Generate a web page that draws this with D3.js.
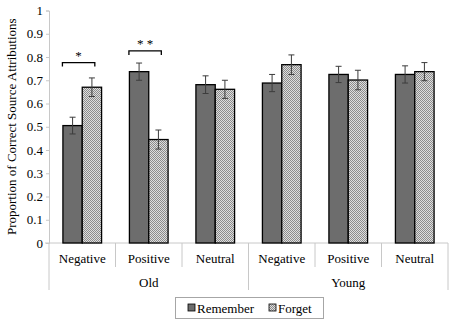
<!DOCTYPE html>
<meta charset="utf-8">
<style>
    body { margin: 0; background: #fff; overflow: hidden; }
</style>
<svg id="canvas" width="454" height="322"></svg>
<script src="https://d3js.org/d3.v7.min.js"></script>
<script>

    var ages = ["Old", "Young"];
    var valences = ["Negative", "Positive", "Neutral"];
    var series = ["Remember", "Forget"];

    var remember    = [0.505, 0.737, 0.681, 0.688, 0.725, 0.725];
    var rememberErr = [0.036, 0.037, 0.038, 0.037, 0.035, 0.037];
    var forget      = [0.670, 0.445, 0.661, 0.767, 0.701, 0.737];
    var forgetErr   = [0.040, 0.041, 0.039, 0.042, 0.042, 0.039];

    var yTicks = [0, 0.1, 0.2, 0.3, 0.4, 0.5, 0.6, 0.7, 0.8, 0.9, 1];

    // significance markers: category index, label, bracket level
    var sigCats   = [0, 1];
    var sigLabels = ["*", "* *"];
    var sigLevels = [0.776, 0.826];

    var svg = d3.select("#canvas").attr("font-family", "Liberation Serif");
    var plotL = 49, plotR = 448, plotT = 10.5, plotB = 243;

    var cats = [];
    ages.forEach(function(a) { valences.forEach(function(v) { cats.push(a + "|" + v); }); });

    var x0 = d3.scaleBand().domain(cats).range([plotL, plotR]).padding(0);
    var x1 = d3.scaleBand().domain(series).range([0, x0.bandwidth()]).paddingInner(0).paddingOuter(0.72);
    var y = d3.scaleLinear().domain([0, 1]).range([plotB, plotT]);

    var defs = svg.append("defs");
    var pat = defs.append("pattern").attr("id", "hatch")
        .attr("patternUnits", "userSpaceOnUse").attr("width", 2).attr("height", 2);
    pat.append("rect").attr("width", 2).attr("height", 2).attr("fill", "#dedede");
    pat.append("rect").attr("width", 1).attr("height", 1).attr("fill", "#8c8c8c");
    pat.append("rect").attr("x", 1).attr("y", 1).attr("width", 1).attr("height", 1).attr("fill", "#8c8c8c");

    var fills = { Remember: "#6d6d6d", Forget: "url(#hatch)" };

    function label(sel) {
        return sel.attr("font-family", "Liberation Serif").attr("font-size", 13).attr("fill", "#000");
    }

    // y axis
    var yAxis = svg.append("g").attr("transform", "translate(" + plotL + ",0)")
        .call(d3.axisLeft(y).tickValues(yTicks).tickSize(3).tickPadding(3)
              .tickFormat(function(d) { return d === 0 || d === 1 ? d3.format("d")(d) : d3.format(".1f")(d); }));
    yAxis.attr("font-family", "Liberation Serif").attr("font-size", 13);
    yAxis.select(".domain").attr("stroke", "#c8c8c8");
    yAxis.selectAll(".tick line").attr("stroke", "#c8c8c8");
    label(yAxis.selectAll("text"));

    // x axis line
    svg.append("line").attr("x1", plotL - 4).attr("x2", plotR).attr("y1", plotB).attr("y2", plotB)
        .attr("stroke", "#c8c8c8");

    // category separators
    var seps = cats.map(function(c) { return x0(c); }).concat([plotR]);
    svg.selectAll(".sep").data(seps).enter().append("line")
        .attr("x1", function(d) { return d; }).attr("x2", function(d) { return d; })
        .attr("y1", plotB)
        .attr("y2", function(d, i) { return i % 3 === 0 ? 290 : 267; })
        .attr("stroke", "#c8c8c8");

    label(svg.selectAll(".cat").data(cats).enter().append("text")
        .attr("x", function(d) { return x0(d) + x0.bandwidth() / 2; })
        .attr("y", 263).attr("text-anchor", "middle")
        .text(function(d) { return d.split("|")[1]; }));

    label(svg.selectAll(".age").data(ages).enter().append("text")
        .attr("x", function(d) { return (x0(d + "|Negative") + x0(d + "|Neutral") + x0.bandwidth()) / 2; })
        .attr("y", 287).attr("text-anchor", "middle")
        .text(function(d) { return d; }));

    // y title
    label(svg.append("text")
        .attr("transform", "translate(16," + (plotT + plotB) / 2 + ") rotate(-90)")
        .attr("text-anchor", "middle")
        .text("Proportion of Correct Source Attributions"));

    // bars
    var rows = [];
    cats.forEach(function(c, i) {
        rows.push({ cat: c, s: "Remember", v: remember[i], e: rememberErr[i] });
        rows.push({ cat: c, s: "Forget", v: forget[i], e: forgetErr[i] });
    });

    var bars = svg.append("g");
    bars.selectAll("rect").data(rows).enter().append("rect")
        .attr("x", function(d) { return x0(d.cat) + x1(d.s); })
        .attr("y", function(d) { return y(d.v); })
        .attr("width", x1.bandwidth())
        .attr("height", function(d) { return y(0) - y(d.v); })
        .attr("fill", function(d) { return fills[d.s]; })
        .attr("stroke", "#000").attr("stroke-width", 1.3);

    // error bars
    var eb = svg.append("g").attr("stroke", "#3c3c3c").attr("stroke-width", 1);
    rows.forEach(function(d) {
        var cx = x0(d.cat) + x1(d.s) + x1.bandwidth() / 2;
        eb.append("line").attr("x1", cx).attr("x2", cx).attr("y1", y(d.v + d.e)).attr("y2", y(d.v - d.e));
        eb.append("line").attr("x1", cx - 3).attr("x2", cx + 3).attr("y1", y(d.v + d.e)).attr("y2", y(d.v + d.e));
        eb.append("line").attr("x1", cx - 3).attr("x2", cx + 3).attr("y1", y(d.v - d.e)).attr("y2", y(d.v - d.e));
    });

    // significance brackets
    sigCats.forEach(function(ci, k) {
        var c = cats[ci];
        var xa = x0(c) + x1("Remember") - 0.5;
        var xb = x0(c) + x1("Forget") + x1.bandwidth() * 0.65;
        var yb = y(sigLevels[k]);
        svg.append("path")
            .attr("d", "M" + xa + "," + (yb + 4) + "V" + yb + "H" + xb + "V" + (yb + 4))
            .attr("fill", "none").attr("stroke", "#000").attr("stroke-width", 1.3);
        label(svg.append("text").attr("x", (xa + xb) / 2).attr("y", yb - 3)
            .attr("text-anchor", "middle")
            .text(sigLabels[k]));
    });

    // legend
    var lg = svg.append("g");
    lg.append("rect").attr("x", 175.5).attr("y", 297.5).attr("width", 148).attr("height", 21)
        .attr("fill", "#fff").attr("stroke", "#a6a6a6");
    var lx = [188, 269];
    series.forEach(function(s, i) {
        lg.append("rect").attr("x", lx[i]).attr("y", 304).attr("width", 7).attr("height", 7)
            .attr("fill", fills[s]).attr("stroke", "#000").attr("stroke-width", 0.8);
        label(lg.append("text").attr("x", lx[i] + 9).attr("y", 313).text(s));
    });

</script>
